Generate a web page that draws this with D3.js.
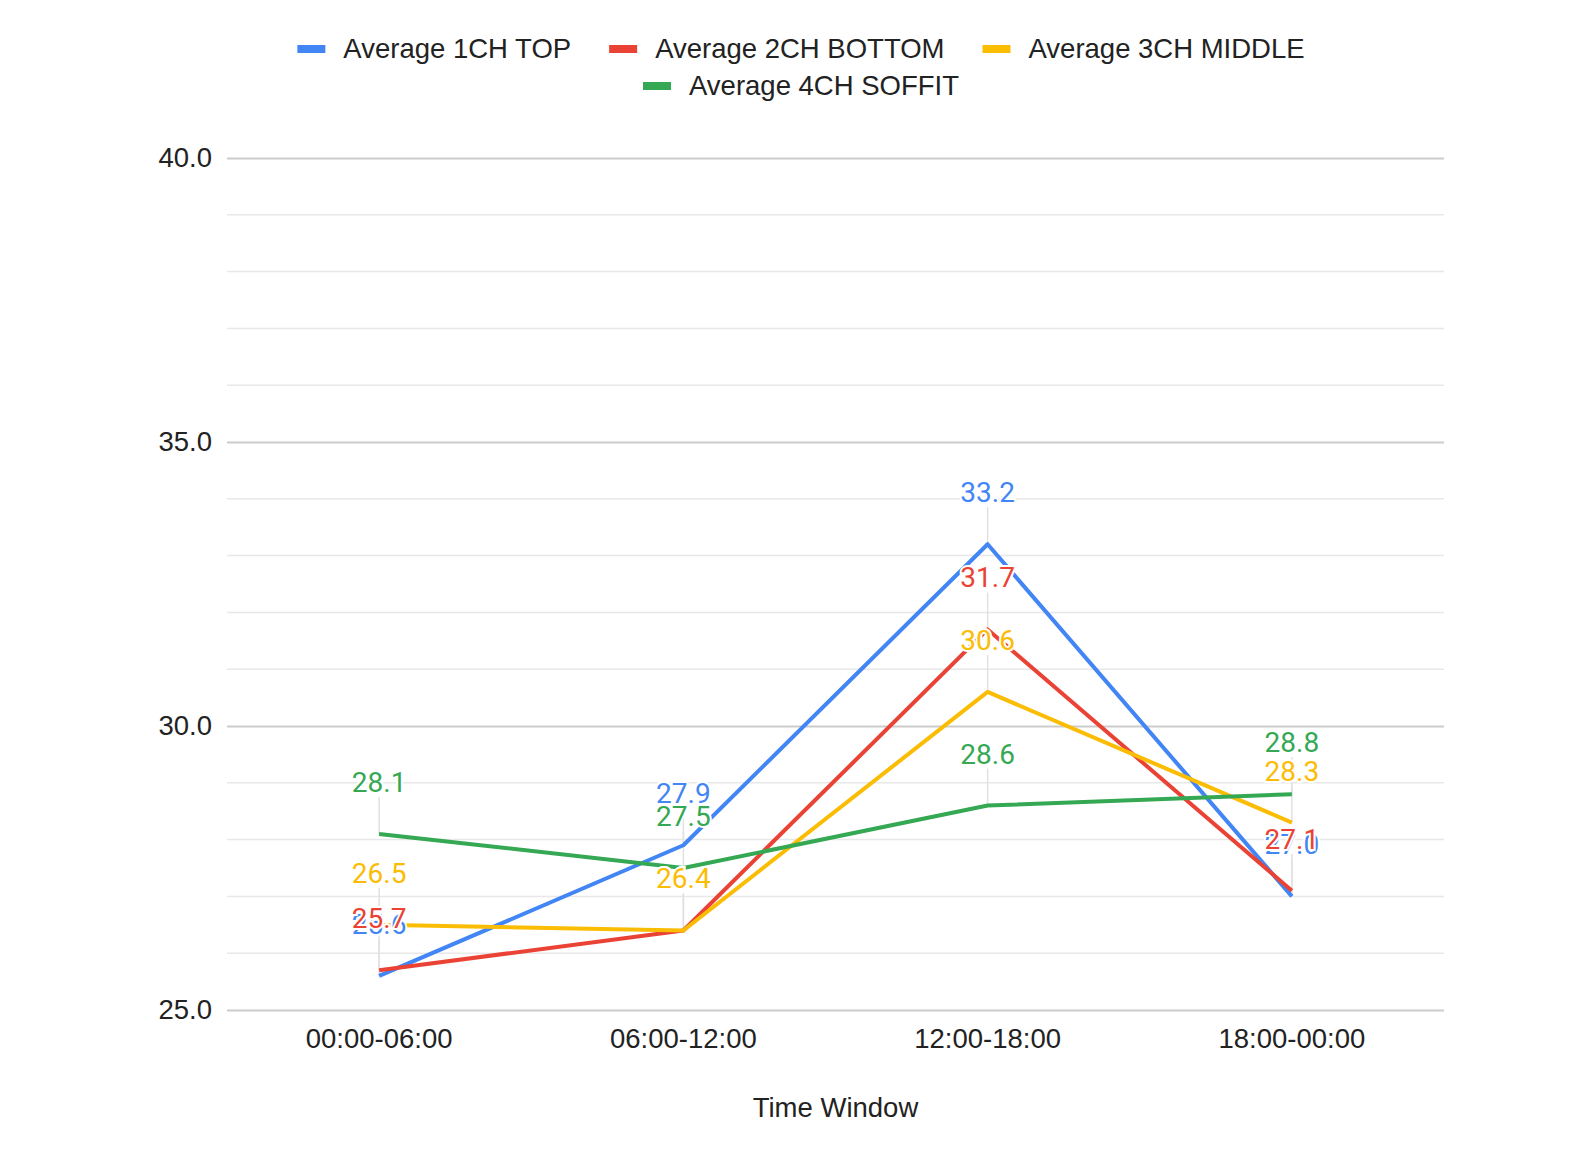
<!DOCTYPE html>
<html>
<head>
<meta charset="utf-8">
<script src="https://cdn.jsdelivr.net/npm/d3@7"></script>
<style>
  html, body { margin: 0; padding: 0; background: #fff; overflow: hidden; }
  svg { display: block; }
  text { font-family: Arial, "Liberation Sans", sans-serif; }
</style>
</head>
<body>
<script>
// Chart data
const categories = ['00:00-06:00', '06:00-12:00', '12:00-18:00', '18:00-00:00']
const seriesNames = ['Average 1CH TOP', 'Average 2CH BOTTOM', 'Average 3CH MIDDLE', 'Average 4CH SOFFIT']
const top1ch = [25.6, 27.9, 33.2, 27.0]
const bottom2ch = [25.7, 26.4, 31.7, 27.1]
const middle3ch = [26.5, 26.4, 30.6, 28.3]
const soffit4ch = [28.1, 27.5, 28.6, 28.8]
const yTicks = [25, 30, 35, 40]
const xTitle = 'Time Window'

const colors = ['#4285F4', '#EA4335', '#FBBC04', '#34A853']
const seriesValues = [top1ch, bottom2ch, middle3ch, soffit4ch]

const width = 1580
const height = 1162
const margin = { left: 227, right: 136, top: 158, bottom: 152 }
const fontSize = '27.5px'

const svg = d3.select(document.body)
  .append('svg')
  .attr('width', width)
  .attr('height', height)

const x = d3.scaleBand()
  .domain(categories)
  .range([margin.left, width - margin.right])

const y = d3.scaleLinear()
  .domain([25, 40])
  .range([height - margin.bottom, margin.top])

// minor gridlines every 1 unit
svg.append('g')
  .selectAll('line')
  .data(d3.range(25, 41).filter((v) => v % 5 !== 0))
  .enter()
  .append('line')
  .attr('x1', margin.left)
  .attr('x2', width - margin.right)
  .attr('y1', (d) => y(d))
  .attr('y2', (d) => y(d))
  .attr('stroke', '#e8e8e8')
  .attr('stroke-width', 1.5)

// major gridlines + labels
const yAxis = svg.append('g')
  .attr('transform', `translate(${margin.left},0)`)
  .call(d3.axisLeft(y).tickValues(yTicks).tickSize(-(width - margin.left - margin.right)).tickFormat(d3.format('.1f')).tickPadding(15))
yAxis.select('.domain').remove()
yAxis.selectAll('.tick line').attr('stroke', '#cccccc').attr('stroke-width', 2)
yAxis.selectAll('.tick text')
  .attr('fill', '#222')
  .style('font-size', fontSize)
  .style('font-family', 'Arial, "Liberation Sans", sans-serif')

// x axis labels
const xAxis = svg.append('g')
  .attr('transform', `translate(0,${height - margin.bottom})`)
  .call(d3.axisBottom(x).tickSize(0).tickPadding(18))
xAxis.select('.domain').remove()
xAxis.selectAll('.tick text')
  .attr('fill', '#222')
  .style('font-size', fontSize)
  .style('font-family', 'Arial, "Liberation Sans", sans-serif')

svg.append('text')
  .attr('x', (margin.left + width - margin.right) / 2)
  .attr('y', 1117)
  .attr('text-anchor', 'middle')
  .attr('fill', '#222')
  .style('font-size', fontSize)
  .text(xTitle)

const cx = (c) => x(c) + x.bandwidth() / 2

// annotation stems
const stemLen = 37
seriesValues.forEach((vals) => {
  svg.append('g')
    .selectAll('line')
    .data(vals)
    .enter()
    .append('line')
    .attr('x1', (d, i) => cx(categories[i]))
    .attr('x2', (d, i) => cx(categories[i]))
    .attr('y1', (d) => y(d))
    .attr('y2', (d) => y(d) - stemLen)
    .attr('stroke', '#e0e0e0')
    .attr('stroke-width', 1.5)
})

// lines
const line = d3.line()
  .x((d, i) => cx(categories[i]))
  .y((d) => y(d))

seriesValues.forEach((vals, s) => {
  svg.append('path')
    .datum(vals)
    .attr('fill', 'none')
    .attr('stroke', colors[s])
    .attr('stroke-width', 4)
    .attr('stroke-linejoin', 'round')
    .attr('d', line)
})

// data labels with white halo
seriesValues.forEach((vals, s) => {
  svg.append('g')
    .selectAll('text')
    .data(vals)
    .enter()
    .append('text')
    .attr('x', (d, i) => cx(categories[i]))
    .attr('y', (d) => y(d) - stemLen - 5)
    .attr('text-anchor', 'middle')
    .attr('fill', colors[s])
    .attr('stroke', '#fff')
    .attr('stroke-width', 4)
    .attr('paint-order', 'stroke')
    .style('font-family', 'Roboto, Arial, sans-serif')
    .style('font-size', '28px')
    .text((d) => d3.format('.1f')(d))
})

// legend (two rows, centered)
const legendRows = [[0, 1, 2], [3]]
const legendCenter = 801
legendRows.forEach((row, r) => {
  const g = svg.append('g')
  let cursor = 0
  row.forEach((s) => {
    const item = g.append('g').attr('transform', `translate(${cursor},0)`)
    item.append('rect')
      .attr('x', 0)
      .attr('y', -4)
      .attr('width', 28)
      .attr('height', 8)
      .attr('fill', colors[s])
    const t = item.append('text')
      .attr('x', 46)
      .attr('y', 9)
      .attr('fill', '#222')
      .style('font-size', fontSize)
      .text(seriesNames[s])
    cursor += 46 + t.node().getComputedTextLength() + 38
  })
  const total = cursor - 38
  g.attr('transform', `translate(${legendCenter - total / 2},${49 + r * 37})`)
})
</script>
</body>
</html>
